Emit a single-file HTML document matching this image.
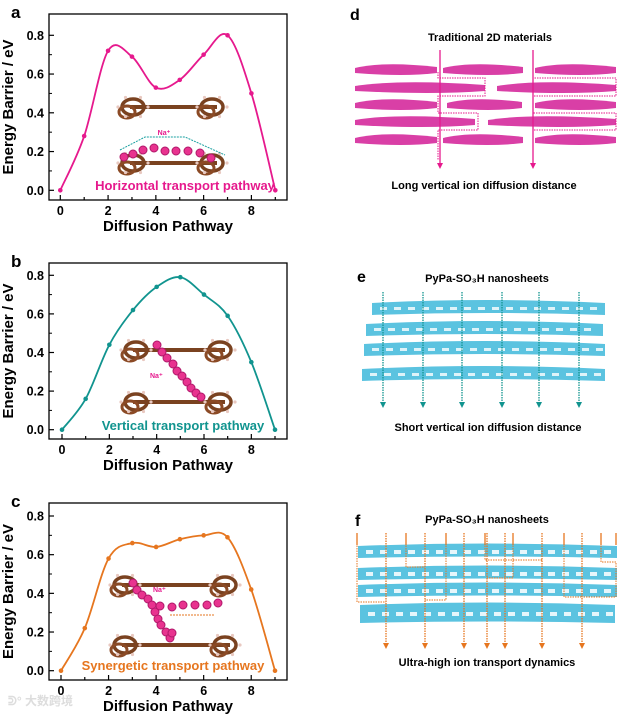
<!DOCTYPE html>
<html><head><meta charset="utf-8"><style>
html,body{margin:0;padding:0;background:#fff;width:626px;height:717px;overflow:hidden}
svg{display:block;font-family:"Liberation Sans",Arial,sans-serif;font-weight:bold}
</style></head><body>
<svg id="fig" width="626" height="717" viewBox="0 0 626 717">
</svg>
<script>
const steps = [0,1,2,3,4,5,6,7,8,9];
const barrierA = [0,0.28,0.72,0.69,0.53,0.57,0.70,0.80,0.50,0.0];
const barrierB = [0,0.16,0.44,0.62,0.74,0.79,0.70,0.59,0.35,0.0];
const barrierC = [0,0.22,0.58,0.66,0.64,0.68,0.70,0.69,0.42,0.0];
const yTicks = [0,0.2,0.4,0.6,0.8];
const xTicks = [0,2,4,6,8];
const NS="http://www.w3.org/2000/svg";
const svg=document.getElementById('fig');
function mk(tag,attrs,parent,text){const e=document.createElementNS(NS,tag);for(const k in attrs)e.setAttribute(k,attrs[k]);if(text!==undefined)e.textContent=text;(parent||svg).appendChild(e);return e;}

function panel(id,letter,data,color,label,box,y0px,y8px,x0px,x9px,inset){
  const g=mk('g',{});
  
  
  const sx=v=>x0px+(v-0)*(x9px-x0px)/9;
  const sy=v=>y0px+(v)*(y8px-y0px)/0.8;
  const t=mk('text',{x:11,y:box.t+4,'font-size':17},g,letter);
  
  
  inset(g,sx,sy);
  const frame=mk('rect',{x:box.l,y:box.t,width:box.r-box.l,height:box.b-box.t,fill:'none',stroke:'#000','stroke-width':1.3},g);
  
  
  yTicks.forEach(v=>{
    const y=sy(v);
    mk('line',{x1:box.l,x2:box.l+5,y1:y,y2:y,stroke:'#000','stroke-width':1.2},g);
    const mid=sy(v+0.1);
    if(v<0.8) mk('line',{x1:box.l,x2:box.l+3,y1:mid,y2:mid,stroke:'#000','stroke-width':1},g);
    const tl=mk('text',{x:box.l-5,y:y+4.5,'font-size':12.5,'text-anchor':'end'},g,v.toFixed(1));
    
    
  });
  steps.forEach(v=>{
    const x=sx(v);
    mk('line',{x1:x,x2:x,y1:box.b,y2:box.b-(v%2===0?5:3),stroke:'#000','stroke-width':1.2},g);
  });
  xTicks.forEach(v=>{
    const tl=mk('text',{x:sx(v),y:box.b+15,'font-size':12.5,'text-anchor':'middle'},g,String(v));
    
    
  });
  const xt=mk('text',{x:(box.l+box.r)/2,y:box.b+31,'font-size':15,'text-anchor':'middle'},g,'Diffusion Pathway');
  
  
  const yc=(box.t+box.b)/2;
  const yt=mk('text',{x:13,y:yc,'font-size':15,'text-anchor':'middle',transform:`rotate(-90 13 ${yc})`},g,'Energy Barrier / eV');
  
  
  const P=steps.map((s,i)=>[sx(s),sy(data[i])]);
  let d=`M${P[0][0]},${P[0][1]}`;
  for(let i=0;i<P.length-1;i++){
    const p0=P[Math.max(0,i-1)],p1=P[i],p2=P[i+1],p3=P[Math.min(P.length-1,i+2)];
    const c1=[p1[0]+(p2[0]-p0[0])/6,p1[1]+(p2[1]-p0[1])/6];
    const c2=[p2[0]-(p3[0]-p1[0])/6,p2[1]-(p3[1]-p1[1])/6];
    d+=` C${c1[0]},${c1[1]} ${c2[0]},${c2[1]} ${p2[0]},${p2[1]}`;
  }
  const line=mk('path',{d,fill:'none',stroke:color,'stroke-width':1.8},g);
  
  
  P.forEach(p=>{
    const c=mk('circle',{cx:p[0],cy:p[1],r:2.3,fill:color},g);
    
    
  });
  const lb=mk('text',{x:label.x,y:label.y,'font-size':13,fill:color,'text-anchor':'middle'},g,label.t);
  
  
}
function ring(g,cx,cy){
  mk('ellipse',{cx,cy,rx:11,ry:8,fill:'none',stroke:'#7a4220','stroke-width':3.5},g);
  mk('ellipse',{cx:cx-6,cy:cy+5,rx:8,ry:6,fill:'none',stroke:'#8b4a25','stroke-width':3},g);
  for(let k=0;k<6;k++){const a=k*Math.PI/3;mk('circle',{cx:cx+15*Math.cos(a),cy:cy+11*Math.sin(a),r:1.6,fill:'#e8c8c0'},g);}
}
function molecule(g,x1,x2,y){
  mk('line',{x1:x1+15,x2:x2-15,y1:y,y2:y,stroke:'#7a4220','stroke-width':4},g);
  ring(g,x1+18,y);ring(g,x2-20,y);
}
function balls(g,pts,r){pts.forEach(p=>mk('circle',{cx:p[0],cy:p[1],r:r||4,fill:'#e8338f',stroke:'#b0186a','stroke-width':1},g));}

panel('a','a',barrierA,'#e6198d',{x:185,y:190,t:'Horizontal transport pathway'},{l:49,r:287,t:14,b:200},190.3,35.3,60.3,275.3,(g)=>{
  molecule(g,115,232,107);
  molecule(g,115,232,163);
  balls(g,[[124,157],[133,154],[143,150],[154,148],[165,151],[176,151],[188,151],[200,153],[211,158]]);
  mk('path',{d:'M120,150 L145,137 L185,137 L225,155',fill:'none',stroke:'#1aa0a0','stroke-width':1,'stroke-dasharray':'2 1'},g);
  mk('text',{x:164,y:135,'font-size':7,fill:'#e6198d','text-anchor':'middle'},g,'Na⁺');
});
panel('b','b',barrierB,'#11948f',{x:183,y:430,t:'Vertical transport pathway'},{l:49,r:287,t:263,b:439},429.7,275.3,62,275,(g)=>{
  molecule(g,118,240,350);
  molecule(g,118,240,402);
  balls(g,[[157,345],[162,352],[167,358],[173,364],[177,371],[182,376],[187,382],[191,388],[196,393],[201,397]]);
  mk('text',{x:150,y:378,'font-size':7,fill:'#e6198d'},g,'Na⁺');
});
panel('c','c',barrierC,'#e6761f',{x:173,y:670,t:'Synergetic transport pathway'},{l:49,r:287,t:503,b:680},670.7,516,61,275,(g)=>{
  molecule(g,107,245,585);
  molecule(g,107,245,645);
  balls(g,[[133,583],[137,590],[142,595],[148,599],[152,605],[155,612],[158,619],[161,625],[166,632],[170,638],[172,633],[160,606],[172,607],[183,605],[195,605],[207,605],[218,603]]);
  mk('line',{x1:170,x2:215,y1:615,y2:615,stroke:'#e6761f','stroke-width':1,'stroke-dasharray':'2 1'},g);
  mk('text',{x:153,y:592,'font-size':7,fill:'#e6198d'},g,'Na⁺');
});

const wm=mk('text',{x:8,y:705,'font-size':12,fill:'#ddd','font-family':'"Liberation Sans","Noto Sans CJK SC",sans-serif'},svg,'ᕲ° 大数跨境');



function txt(x,y,s,t,name,fs,anchor){const e=mk('text',{x,y,'font-size':fs||11.5,'text-anchor':anchor||'middle'},svg,t);return e;}
function arrowDown(x,y1,y2,color,dashed){
  mk('line',{x1:x,x2:x,y1:y1,y2:y2-4,stroke:color,'stroke-width':1.3,'stroke-dasharray':dashed?'1.5 1':'none'});
  mk('path',{d:`M${x-3},${y2-5} L${x+3},${y2-5} L${x},${y2+1} Z`,fill:color});
}
// d
txt(350,20,'', 'd','panel-label-d',16,'start');
txt(490,41,'','Traditional 2D materials','panel-d-title',11);
const dRows=[[70,[[355,437],[443,523],[535,616]]],[88,[[355,485],[497,616]]],[105,[[355,437],[447,522],[535,616]]],[122,[[355,475],[488,616]]],[140,[[355,437],[443,523],[535,616]]]];
dRows.forEach(([y,segs])=>segs.forEach(([a,b])=>{
  const e=mk('path',{d:`M${a},${y-2} Q${a+(b-a)*0.35},${y-9} ${b},${y-3} L${b},${y+3} Q${a+(b-a)*0.6},${y+7} ${a},${y+3} Z`,fill:'#d93fa6'});
  
}));
mk('path',{d:'M438,72 L438,78 L485,78 L485,96 L438,96 L438,113 L478,113 L478,130 L438,130 L438,160',fill:'none',stroke:'#e6198d','stroke-width':1,'stroke-dasharray':'1.5 1'});
mk('path',{d:'M533,72 L533,78 L616,78 L616,96 L533,96 L533,113 L616,113 L616,130 L533,130 L533,160',fill:'none',stroke:'#e6198d','stroke-width':1,'stroke-dasharray':'1.5 1'});
arrowDown(440,50,168,'#e6198d');arrowDown(533,50,168,'#e6198d');
txt(484,189,'','Long vertical ion diffusion distance','panel-d-caption',11);
// e
txt(357,282,'','e','panel-label-e',16,'start');
txt(487,282,'','PyPa-SO₃H nanosheets','panel-e-title',11);
[[309,372,605],[330,366,603],[350,364,605],[375,362,605]].forEach(([y,a,b])=>{
  const e=mk('path',{d:`M${a},${y-6} Q${(a+b)/2},${y-12} ${b},${y-6} L${b},${y+6} Q${(a+b)/2},${y+2} ${a},${y+6} Z`,fill:'#5bc3e0'});
  
  for(let x=a+8;x<b-6;x+=14) mk('rect',{x,y:y-2,width:7,height:3,fill:'#fff','fill-opacity':0.8});
});
[383,423,462,502,539,579].forEach(x=>arrowDown(x,292,407,'#11948f',true));
txt(488,431,'','Short vertical ion diffusion distance','panel-e-caption',11);
// f
txt(355,526,'','f','panel-label-f',16,'start');
txt(487,523,'','PyPa-SO₃H nanosheets','panel-f-title',11);
[[552,358,617],[574,358,617],[591,358,617],[614,360,615]].forEach(([y,a,b],i)=>{
  const h=i===3?9:6;
  const e=mk('path',{d:`M${a},${y-h} Q${(a+b)/2},${y-h-5} ${b},${y-h} L${b},${y+h} Q${(a+b)/2},${y+h-3} ${a},${y+h} Z`,fill:'#5bc3e0'});
  
  for(let x=a+8;x<b-6;x+=14) mk('rect',{x,y:y-2,width:7,height:4,fill:'#fff','fill-opacity':0.85});
});
[357,406,446,485,513,564,601,616].forEach(x=>mk('line',{x1:x,x2:x,y1:533,y2:545,stroke:'#e6761f','stroke-width':1.3}));
mk('path',{d:'M357,533 L357,602 L386,602 M406,533 L406,567 L425,567 M446,533 L446,600 L425,600 M485,533 L485,560 L543,560 M513,533 L513,578 L487,578 M564,533 L564,597 L582,597 M601,533 L601,562 L616,562 L616,597 L582,597',fill:'none',stroke:'#e6761f','stroke-width':1,'stroke-dasharray':'1.5 1'});
[386,425,464,487,505,542,582].forEach(x=>arrowDown(x,533,648,'#e6761f',true));
txt(487,666,'','Ultra-high ion transport dynamics','panel-f-caption',11);
</script>
</body></html>
